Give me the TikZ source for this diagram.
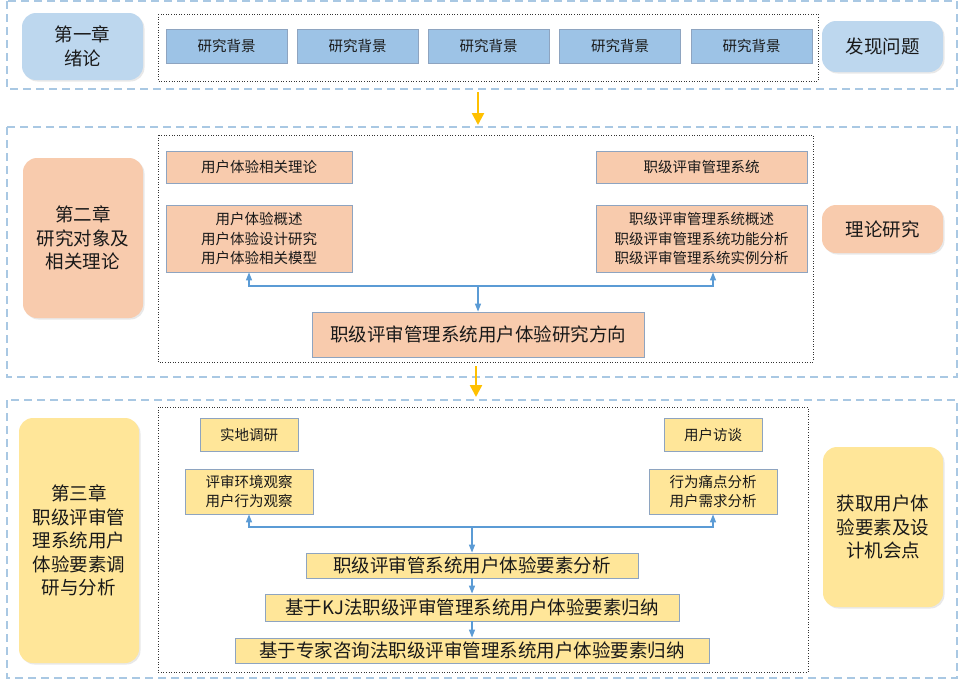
\documentclass[tikz,border=0pt]{standalone}
\usepackage{fontspec}
\setmainfont{Noto Sans CJK SC}
\usetikzlibrary{arrows.meta, shadows}

\definecolor{chblue}{HTML}{BDD7EE}
\definecolor{bgblue}{HTML}{9DC3E6}
\definecolor{peach}{HTML}{F8CBAD}
\definecolor{sand}{HTML}{FFE699}
\definecolor{edgec}{HTML}{8EA4C0}
\definecolor{flowblue}{HTML}{5B9BD5}
\definecolor{gold}{HTML}{FFC000}
\definecolor{framec}{HTML}{A9C8E3}

\tikzset{
  big/.style={font=\fontsize{18.5}{23.5}\selectfont},
  small/.style={font=\fontsize{14.5}{19.5}\selectfont},
  chapbox/.style={rounded corners=14pt, align=center, inner sep=0pt, big,
    drop shadow={shadow xshift=1.5pt, shadow yshift=-1.5pt, opacity=0.18}},
  box/.style={draw=edgec, line width=0.8pt, align=center, inner sep=0pt},
  bgbox/.style={box, small, fill=bgblue, minimum width=121pt, minimum height=34pt},
  thbox/.style={box, fill=peach},
  fdbox/.style={box, fill=sand},
  frame/.style={draw=framec, line width=1.2pt, dash pattern=on 8pt off 5pt},
  dotframe/.style={draw=black!80, line width=0.6pt, dotted},
  flow/.style={draw=flowblue, line width=1.2pt, -{Triangle[width=6pt,length=8pt]}},
  go/.style={draw=gold, line width=2.5pt, -{Triangle[width=12pt,length=12pt]}}
}

\begin{document}
\begin{tikzpicture}[x=1pt, y=-1pt, text=black!90]
\useasboundingbox (0,0) rectangle (961,680);

% section frames
\draw[frame] (7,1) rectangle (957,89);
\draw[frame] (7,127) rectangle (957,377);
\draw[frame] (7,400) rectangle (957,678);
\draw[dotframe] (158,14) rectangle (818,81);
\draw[dotframe] (158,135) rectangle (813,362);
\draw[dotframe] (158,407) rectangle (808,672);

% chapter one
\node[chapbox, fill=chblue, minimum width=121pt, minimum height=67pt] (ch1)
    at (82.5,46.5) {第一章\\绪论};
\foreach \x [count=\i] in {226.5,357.5,488.5,620,751.5}
    \node[bgbox] (bg\i) at (\x,46) {研究背景};
\node[chapbox, fill=chblue, minimum width=121pt, minimum height=51pt] (find)
    at (882.5,46.5) {发现问题};

\coordinate (a1) at (478,92);
\coordinate (b1) at (478,125);
\draw[go] (a1) -- (b1);

% chapter two
\node[chapbox, fill=peach, minimum width=120pt, minimum height=160pt] (ch2)
    at (83,238) {第二章\\研究对象及\\相关理论};
\node[thbox, small, minimum width=186pt, minimum height=32pt] (t1)
    at (259,167) {用户体验相关理论};
\node[thbox, small, minimum width=186pt, minimum height=67pt] (t2)
    at (259,238.5) {用户体验概述\\用户体验设计研究\\用户体验相关模型};
\node[thbox, small, minimum width=211pt, minimum height=32pt] (s1)
    at (701.5,167) {职级评审管理系统};
\node[thbox, small, minimum width=211pt, minimum height=67pt] (s2)
    at (701.5,238.5) {职级评审管理系统概述\\职级评审管理系统功能分析\\职级评审管理系统实例分析};
\node[thbox, big, minimum width=332pt, minimum height=45pt] (dir)
    at (478,334.5) {职级评审管理系统用户体验研究方向};
\node[chapbox, fill=peach, minimum width=121pt, minimum height=48pt] (theory)
    at (882.5,229) {理论研究};

\coordinate (j2) at (478,286);
\draw[flow] (j2) -- (dir);
\draw[flow] (j2) -| ([xshift=-10pt]t2.south);
\draw[flow] (j2) -| ([xshift=11.5pt]s2.south);

\coordinate (a2) at (476,366);
\coordinate (b2) at (476,397);
\draw[go] (a2) -- (b2);

% chapter three
\node[chapbox, fill=sand, minimum width=120pt, minimum height=245pt] (ch3)
    at (79,540.5) {第三章\\职级评审管\\理系统用户\\体验要素调\\研与分析};
\node[fdbox, small, minimum width=98pt, minimum height=33pt] (f1)
    at (249,434.5) {实地调研};
\node[fdbox, small, minimum width=128pt, minimum height=45pt] (f2)
    at (249,491.5) {评审环境观察\\用户行为观察};
\node[fdbox, small, minimum width=98pt, minimum height=33pt] (u1)
    at (713,434.5) {用户访谈};
\node[fdbox, small, minimum width=128pt, minimum height=45pt] (u2)
    at (713,491.5) {行为痛点分析\\用户需求分析};
\node[fdbox, big, minimum width=332pt, minimum height=25pt] (e1)
    at (472,565.5) {职级评审管系统用户体验要素分析};
\node[fdbox, big, minimum width=414pt, minimum height=27pt] (e2)
    at (472,607.5) {基于KJ法职级评审管理系统用户体验要素归纳};
\node[fdbox, big, minimum width=474pt, minimum height=25pt] (e3)
    at (472,650.5) {基于专家咨询法职级评审管理系统用户体验要素归纳};
\node[chapbox, fill=sand, minimum width=120pt, minimum height=160pt] (gain)
    at (883,527) {获取用户体\\验要素及设\\计机会点};

\coordinate (j3) at (472,527);
\draw[flow] (j3) -| (f2);
\draw[flow] (j3) -| (u2);
\draw[flow] (j3) -- (e1);
\draw[flow] (e1) -- (e2);
\draw[flow] (e2) -- (e3);
\end{tikzpicture}
\end{document}
